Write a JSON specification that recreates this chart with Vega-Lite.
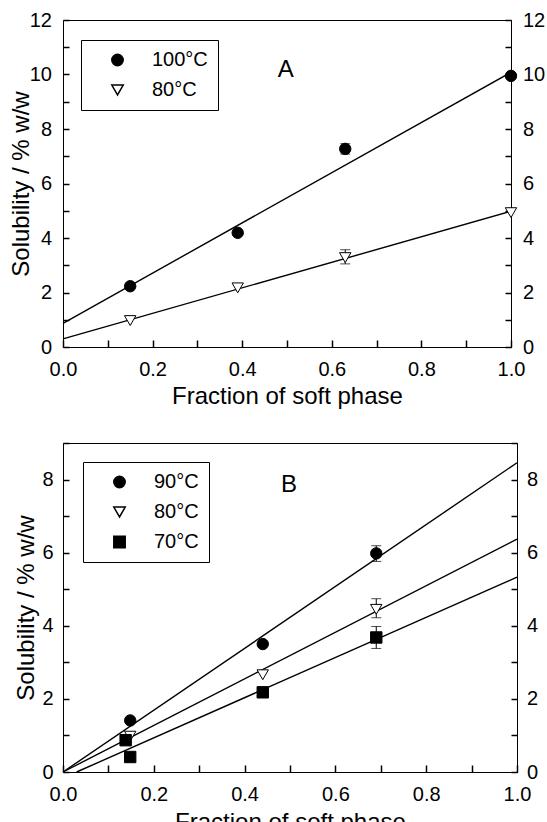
{
  "$schema": "https://vega.github.io/schema/vega-lite/v6.json",
  "padding": {"top": 9, "left": 8, "right": 0, "bottom": 0},
  "datasets": {
    "fitA": [
      {"series": "100°C", "x": 0, "y": 0.87, "xe": 1, "ye": 10.08},
      {"series": "80°C", "x": 0, "y": 0.3, "xe": 1, "ye": 4.98}
    ],
    "ptsA": [
      {"series": "100°C", "x": 0.15, "y": 2.23},
      {"series": "100°C", "x": 0.39, "y": 4.19},
      {"series": "100°C", "x": 0.63, "y": 7.27, "lo": 7.08, "hi": 7.46},
      {"series": "100°C", "x": 1.0, "y": 9.95},
      {"series": "80°C", "x": 0.15, "y": 0.97},
      {"series": "80°C", "x": 0.39, "y": 2.17},
      {"series": "80°C", "x": 0.63, "y": 3.28, "lo": 3.05, "hi": 3.57},
      {"series": "80°C", "x": 1.0, "y": 4.93}
    ],
    "fitB": [
      {"series": "90°C", "x": 0, "y": 0, "xe": 1, "ye": 8.46},
      {"series": "80°C", "x": 0, "y": 0, "xe": 1, "ye": 6.37},
      {"series": "70°C", "x": 0.03, "y": 0, "xe": 1, "ye": 5.33}
    ],
    "ptsB": [
      {"series": "90°C", "x": 0.148, "y": 1.41},
      {"series": "90°C", "x": 0.44, "y": 3.5},
      {"series": "90°C", "x": 0.69, "y": 5.98, "lo": 5.76, "hi": 6.19},
      {"series": "80°C", "x": 0.148, "y": 0.98},
      {"series": "80°C", "x": 0.44, "y": 2.66},
      {"series": "80°C", "x": 0.69, "y": 4.45, "lo": 4.22, "hi": 4.74},
      {"series": "70°C", "x": 0.138, "y": 0.87},
      {"series": "70°C", "x": 0.148, "y": 0.41},
      {"series": "70°C", "x": 0.44, "y": 2.18},
      {"series": "70°C", "x": 0.69, "y": 3.68, "lo": 3.38, "hi": 3.98}
    ],
    "labA": [{"label": "A", "x": 0.497, "y": 10.16}],
    "labB": [{"label": "B", "x": 0.498, "y": 7.84}]
  },
  "concat": [
    {
      "width": 448,
      "height": 327,
      "resolve": {"axis": {"y": "independent"}},
      "layer": [
        {
          "data": {"name": "fitA"},
          "mark": {"type": "rule", "color": "black", "strokeWidth": 1.4},
          "encoding": {
            "x": {"field": "x", "type": "quantitative", "scale": {"domain": [0, 1]},
              "axis": {"title": "Fraction of soft phase", "values": [0, 0.1, 0.2, 0.3, 0.4, 0.5, 0.6, 0.7, 0.8, 0.9, 1.0],
                "labelExpr": "round(datum.value*10) % 2 == 0 ? format(datum.value, '.1f') : ''",
                "tickSize": -7, "tickColor": "black", "tickWidth": 1.5, "labelPadding": 19.5, "titleY": 56, "titleBaseline": "alphabetic"}},
            "y": {"field": "y", "type": "quantitative", "scale": {"domain": [0, 12]},
              "axis": {"title": "Solubility / % w/w", "values": [0, 1, 2, 3, 4, 5, 6, 7, 8, 9, 10, 11, 12],
                "labelExpr": "datum.value % 2 == 0 ? datum.label : ''",
                "tickSize": -6, "tickColor": "black", "tickWidth": 1.5, "labelPadding": 17.5, "titleX": -35, "titleBaseline": "alphabetic"}},
            "x2": {"field": "xe"},
            "y2": {"field": "ye"}
          }
        },
        {
          "data": {"name": "ptsA"},
          "transform": [{"filter": "isValid(datum.lo)"}],
          "mark": {"type": "errorbar", "color": "black", "ticks": {"size": 10, "color": "black"}},
          "encoding": {
            "x": {"field": "x", "type": "quantitative"},
            "y": {"field": "lo", "type": "quantitative", "axis": null},
            "y2": {"field": "hi"}
          }
        },
        {
          "data": {"name": "ptsA"},
          "mark": {"type": "point", "filled": true, "stroke": "black", "strokeWidth": 1, "size": 130, "opacity": 1},
          "encoding": {
            "x": {"field": "x", "type": "quantitative"},
            "y": {"field": "y", "type": "quantitative", "axis": null},
            "shape": {"field": "series", "type": "nominal", "scale": {"domain": ["100°C", "80°C"], "range": ["circle", "triangle-down"]},
              "legend": {"title": null, "orient": "none", "legendX": 18, "legendY": 20,
                "encode": {"symbols": {"update": {"stroke": {"value": "black"}, "strokeWidth": {"value": 1}}}}}},
            "fill": {"field": "series", "type": "nominal", "scale": {"domain": ["100°C", "80°C"], "range": ["black", "white"]},
              "legend": {"title": null, "orient": "none", "legendX": 18, "legendY": 20,
                "encode": {"symbols": {"update": {"stroke": {"value": "black"}, "strokeWidth": {"value": 1}}}}}}
          }
        },
        {
          "data": {"name": "labA"},
          "mark": {"type": "text", "fontSize": 24, "font": "Liberation Sans", "color": "black"},
          "encoding": {
            "x": {"field": "x", "type": "quantitative"},
            "y": {"field": "y", "type": "quantitative",
              "axis": {"orient": "right", "title": null, "values": [0, 1, 2, 3, 4, 5, 6, 7, 8, 9, 10, 11, 12],
                "labelExpr": "datum.value % 2 == 0 ? datum.label : ''",
                "tickSize": -6, "tickColor": "black", "tickWidth": 1.5, "labelPadding": 17.5}},
            "text": {"field": "label"}
          }
        }
      ]
    },
    {
      "width": 454,
      "height": 329,
      "resolve": {"axis": {"y": "independent"}},
      "layer": [
        {
          "data": {"name": "fitB"},
          "mark": {"type": "rule", "color": "black", "strokeWidth": 1.4},
          "encoding": {
            "x": {"field": "x", "type": "quantitative", "scale": {"domain": [0, 1]},
              "axis": {"title": "Fraction of soft phase", "values": [0, 0.1, 0.2, 0.3, 0.4, 0.5, 0.6, 0.7, 0.8, 0.9, 1.0],
                "labelExpr": "round(datum.value*10) % 2 == 0 ? format(datum.value, '.1f') : ''",
                "tickSize": -7, "tickColor": "black", "tickWidth": 1.5, "labelPadding": 19.5, "titleY": 57, "titleBaseline": "alphabetic"}},
            "y": {"field": "y", "type": "quantitative", "scale": {"domain": [0, 9]},
              "axis": {"title": "Solubility / % w/w", "values": [0, 1, 2, 3, 4, 5, 6, 7, 8, 9],
                "labelExpr": "datum.value % 2 == 0 ? datum.label : ''",
                "tickSize": -6, "tickColor": "black", "tickWidth": 1.5, "labelPadding": 16, "titleX": -30, "titleBaseline": "alphabetic"}},
            "x2": {"field": "xe"},
            "y2": {"field": "ye"}
          }
        },
        {
          "data": {"name": "ptsB"},
          "transform": [{"filter": "isValid(datum.lo)"}],
          "mark": {"type": "errorbar", "color": "black", "ticks": {"size": 10, "color": "black"}},
          "encoding": {
            "x": {"field": "x", "type": "quantitative"},
            "y": {"field": "lo", "type": "quantitative", "axis": null},
            "y2": {"field": "hi"}
          }
        },
        {
          "data": {"name": "ptsB"},
          "mark": {"type": "point", "filled": true, "stroke": "black", "strokeWidth": 1, "size": 130, "opacity": 1},
          "encoding": {
            "x": {"field": "x", "type": "quantitative"},
            "y": {"field": "y", "type": "quantitative", "axis": null},
            "shape": {"field": "series", "type": "nominal", "scale": {"domain": ["90°C", "80°C", "70°C"], "range": ["circle", "triangle-down", "square"]},
              "legend": {"title": null, "orient": "none", "legendX": 20, "legendY": 19,
                "encode": {"symbols": {"update": {"stroke": {"value": "black"}, "strokeWidth": {"value": 1}}}}}},
            "fill": {"field": "series", "type": "nominal", "scale": {"domain": ["90°C", "80°C", "70°C"], "range": ["black", "white", "black"]},
              "legend": {"title": null, "orient": "none", "legendX": 20, "legendY": 19,
                "encode": {"symbols": {"update": {"stroke": {"value": "black"}, "strokeWidth": {"value": 1}}}}}}
          }
        },
        {
          "data": {"name": "labB"},
          "mark": {"type": "text", "fontSize": 24, "font": "Liberation Sans", "color": "black"},
          "encoding": {
            "x": {"field": "x", "type": "quantitative"},
            "y": {"field": "y", "type": "quantitative",
              "axis": {"orient": "right", "title": null, "values": [0, 1, 2, 3, 4, 5, 6, 7, 8, 9],
                "labelExpr": "datum.value % 2 == 0 ? datum.label : ''",
                "tickSize": -6, "tickColor": "black", "tickWidth": 1.5, "labelPadding": 15.5}},
            "text": {"field": "label"}
          }
        }
      ]
    }
  ],
  "columns": 1,
  "align": "none",
  "spacing": 23,
  "resolve": {
    "scale": {"shape": "independent", "fill": "independent"},
    "legend": {"shape": "independent", "fill": "independent"}
  },
  "config": {
    "font": "Liberation Sans",
    "background": "white",
    "view": {"stroke": "black", "strokeWidth": 1},
    "axis": {
      "grid": false,
      "domainColor": "black", "domainWidth": 1,
      "labelColor": "black", "labelFont": "Liberation Sans", "labelFontSize": 20,
      "titleColor": "black", "titleFont": "Liberation Sans", "titleFontSize": 24, "titleFontWeight": "normal",
      "labelFlush": false, "labelOverlap": false
    },
    "legend": {
      "strokeColor": "black", "strokeWidth": 1, "padding": 10,
      "symbolOffset": 16.5, "labelOffset": 24.5, "rowPadding": 10,
      "labelFont": "Liberation Sans", "labelFontSize": 20, "labelColor": "black",
      "symbolSize": 130
    }
  }
}
